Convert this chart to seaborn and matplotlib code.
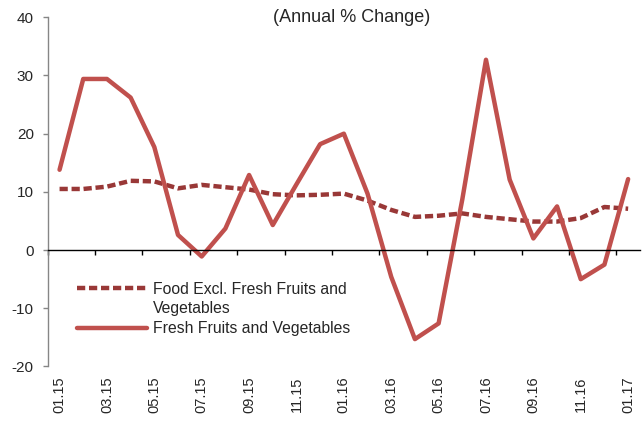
import pandas as pd
import matplotlib
matplotlib.use("Agg")
import matplotlib.pyplot as plt
import seaborn as sns

# monthly labels, 01.15 .. 01.17
months = ["01.15", "02.15", "03.15", "04.15", "05.15", "06.15", "07.15",
          "08.15", "09.15", "10.15", "11.15", "12.15", "01.16", "02.16",
          "03.16", "04.16", "05.16", "06.16", "07.16", "08.16", "09.16",
          "10.16", "11.16", "12.16", "01.17"]

food_excl = [10.5, 10.5, 10.9, 11.9, 11.8, 10.6, 11.2, 10.8, 10.4, 9.6,
             9.4, 9.5, 9.7, 8.5, 6.9, 5.7, 5.9, 6.3, 5.7, 5.3,
             4.9, 4.9, 5.5, 7.4, 7.1]
fresh_fv = [13.8, 29.4, 29.4, 26.2, 17.7, 2.6, -1.1, 3.7, 12.9, 4.3,
            11.3, 18.2, 20.0, 9.7, -4.6, -15.3, -12.6, 8.7, 32.7, 12.1,
            2.0, 7.5, -5.0, -2.5, 12.2]

y_ticks = [-20, -10, 0, 10, 20, 30, 40]

df = pd.DataFrame({"pos": range(len(months)), "month": months,
                   "food": food_excl, "fresh": fresh_fv})

sns.set_style("white")
plt.rcParams["font.family"] = ["Liberation Sans", "DejaVu Sans"]
plt.rcParams["axes.unicode_minus"] = False

fig = plt.figure(figsize=(6.43, 4.21), dpi=100)
ax = fig.add_axes([0.0742, 0.1295, 0.9211, 0.8295])

dark_red = "#993837"
red = "#C0504D"
dash = (0, (1.85, 0.85))

sns.lineplot(data=df, x="pos", y="food", ax=ax, color=dark_red, lw=3.2,
             linestyle=dash, dash_capstyle="butt")
sns.lineplot(data=df, x="pos", y="fresh", ax=ax, color=red, lw=3.2)

ax.set_xlim(-0.5, len(months) - 0.5)
ax.set_ylim(-20, 40)
ax.set_yticks(y_ticks)
ax.set_xlabel("")
ax.set_ylabel("")

# zero line with tick marks between categories
ax.spines["bottom"].set_position(("data", 0))
ax.spines["bottom"].set_color("black")
ax.spines["bottom"].set_linewidth(1.0)
ax.set_xticks([p - 0.5 for p in df["pos"][::2]])
ax.set_xticklabels([])
ax.tick_params(axis="x", direction="out", length=3.5, width=1, color="black", bottom=True)

# month labels along the bottom
sec = ax.secondary_xaxis("bottom")
sec.set_xticks(list(df["pos"][::2]))
sec.set_xticklabels(list(df["month"][::2]), rotation=90, fontsize=10.5)
sec.tick_params(length=0, pad=7)
sec.spines["bottom"].set_visible(False)

ax.spines["left"].set_color("#868686")
ax.spines["left"].set_linewidth(1.0)
ax.spines["top"].set_visible(False)
ax.spines["right"].set_visible(False)
ax.tick_params(axis="y", direction="out", length=3.5, width=1, color="#868686",
               left=True, labelsize=11, pad=6.5)

# legend: second line of the first label kept as its own row
h_food = plt.Line2D([], [], color=dark_red, lw=3.2, linestyle=dash, dash_capstyle="butt")
h_blank = plt.Line2D([], [], color="none")
h_fresh = plt.Line2D([], [], color=red, lw=3.2)
ax.legend([h_food, h_blank, h_fresh],
          ["Food Excl. Fresh Fruits and", "Vegetables", "Fresh Fruits and Vegetables"],
          loc="upper left", bbox_to_anchor=(0.049, 0.243), frameon=False,
          fontsize=11.3, handlelength=4.45, handletextpad=0.4,
          labelspacing=0.3, borderpad=0, borderaxespad=0)

fig.text(0.547, 0.958, "(Annual % Change)", ha="center", va="center", fontsize=13)

fig.savefig("out.png", dpi=100)
